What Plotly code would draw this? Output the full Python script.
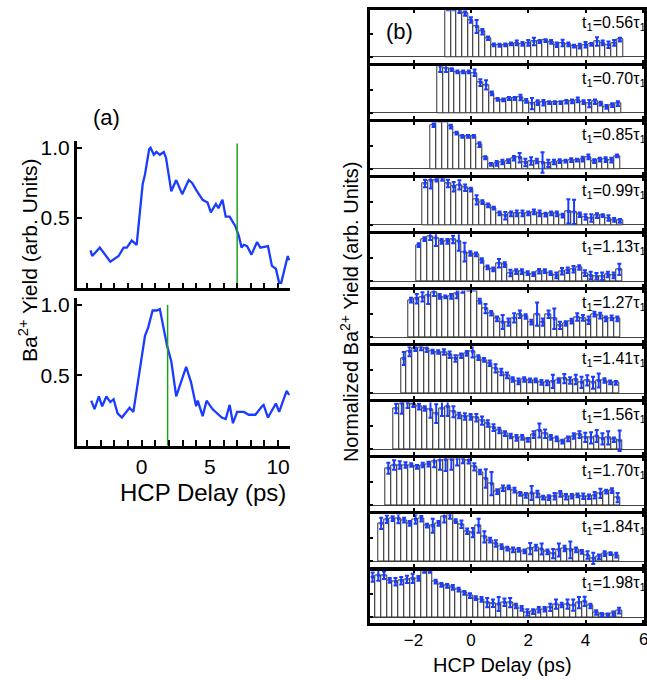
import numpy as np
import plotly.graph_objects as go

W, H = 647, 680
FONT = "Liberation Sans, Arial, sans-serif"
BLUE = "#1a3cff"
GREEN = "#1f9e1f"

# ---------------- panel (a) data ----------------
a_top_x = [-3.75, -3.63, -3.07, -2.30, -1.69, -1.33, -1.09, -0.73, -0.37, 0.07,
           0.24, 0.55, 0.65, 0.89, 1.08, 1.33, 1.62, 1.78, 2.17, 2.53,
           2.97, 3.45, 3.70, 3.99, 4.47, 4.83, 5.07, 5.44, 5.63, 5.92,
           6.16, 6.45, 6.88, 7.13, 7.32, 7.49, 7.73, 8.05, 8.46, 8.70,
           9.26, 9.55, 9.84, 10.08, 10.23, 10.47, 10.71, 10.81]
a_top_y = [0.27, 0.23, 0.29, 0.19, 0.23, 0.29, 0.29, 0.34, 0.31, 0.74,
           0.81, 0.99, 1.00, 0.95, 0.97, 0.95, 0.97, 0.93, 0.69, 0.77,
           0.67, 0.77, 0.75, 0.70, 0.63, 0.61, 0.54, 0.60, 0.57, 0.63,
           0.51, 0.51, 0.44, 0.37, 0.29, 0.31, 0.30, 0.24, 0.33, 0.29,
           0.30, 0.16, 0.14, 0.04, 0.04, 0.14, 0.23, 0.20]
a_bot_x = [-3.70, -3.46, -3.14, -2.90, -2.59, -2.30, -2.06, -1.77, -1.45, -0.89,
           -0.61, -0.24, 0.24, 0.48, 0.80, 1.09, 1.33, 1.86, 2.17, 2.53,
           2.90, 3.26, 3.62, 3.99, 4.11, 4.47, 4.76, 5.19, 5.87, 6.16,
           6.45, 6.69, 7.00, 7.49, 7.85, 8.34, 8.82, 8.94, 9.26, 9.84,
           10.08, 10.63, 10.81]
a_bot_y = [0.32, 0.26, 0.35, 0.28, 0.35, 0.31, 0.33, 0.23, 0.20, 0.27,
           0.24, 0.49, 0.78, 0.84, 0.96, 0.96, 0.97, 0.71, 0.60, 0.35,
           0.46, 0.56, 0.45, 0.28, 0.32, 0.21, 0.32, 0.26, 0.20, 0.19,
           0.29, 0.16, 0.24, 0.24, 0.22, 0.22, 0.28, 0.29, 0.20, 0.30,
           0.24, 0.39, 0.36]
a_marker_x = [7.0, 1.9]
a_tick_vals = [0, 5, 10]
a_tick_text = ["0", "5", "10"]
a_ytick_vals = [0.5, 1.0]
a_ytick_text = ["0.5", "1.0"]

# ---------------- panel (b) data ----------------
b_labels = ["0.56", "0.70", "0.85", "0.99", "1.13", "1.27", "1.41", "1.56", "1.70", "1.84", "1.98"]
b_start = [-0.80, -1.07, -1.30, -1.60, -1.82, -2.09, -2.34, -2.61, -2.88, -3.13, -3.43]
b_step = 0.2

b_p1 = [1.05, 1.05, 1.0, 0.93, 0.79, 0.65, 0.54, 0.40, 0.26, 0.25, 0.26, 0.28, 0.30, 0.28, 0.30, 0.33,
        0.33, 0.35, 0.32, 0.26, 0.30, 0.27, 0.23, 0.23, 0.26, 0.27, 0.33, 0.30, 0.26, 0.30, 0.37]
b_p2 = [1.0, 0.96, 0.93, 0.88, 0.88, 0.88, 0.86, 0.65, 0.60, 0.42, 0.29, 0.28, 0.31, 0.31, 0.33, 0.26,
        0.20, 0.22, 0.22, 0.22, 0.22, 0.22, 0.24, 0.25, 0.28, 0.23, 0.20, 0.24, 0.20, 0.13, 0.17, 0.20]
b_p3 = [0.94, 1.05, 1.05, 0.91, 0.77, 0.70, 0.70, 0.70, 0.52, 0.24, 0.10, 0.12, 0.15, 0.17, 0.23, 0.24,
        0.14, 0.17, 0.17, 0.14, 0.12, 0.15, 0.17, 0.17, 0.19, 0.19, 0.21, 0.26, 0.17, 0.20, 0.20, 0.19, 0.28]
b_p4 = [0.89, 0.96, 0.96, 1.0, 0.89, 0.82, 0.86, 0.80, 0.76, 0.54, 0.49, 0.42, 0.36, 0.25, 0.20, 0.24,
        0.25, 0.25, 0.25, 0.28, 0.25, 0.22, 0.25, 0.24, 0.20, 0.29, 0.28, 0.22, 0.17, 0.15, 0.20, 0.20,
        0.15, 0.11, 0.09]
b_p5 = [0.77, 0.90, 0.96, 0.92, 0.85, 0.85, 0.89, 0.85, 0.62, 0.59, 0.57, 0.44, 0.29, 0.25, 0.38, 0.35,
        0.17, 0.20, 0.20, 0.17, 0.15, 0.21, 0.21, 0.17, 0.12, 0.21, 0.23, 0.25, 0.29, 0.17, 0.12, 0.10,
        0.10, 0.14, 0.12, 0.25]
b_p6 = [0.79, 0.82, 0.86, 0.89, 0.96, 0.87, 0.86, 0.87, 0.93, 1.05, 1.05, 1.05, 0.77, 0.61, 0.51, 0.39,
        0.32, 0.32, 0.41, 0.49, 0.44, 0.32, 0.49, 0.32, 0.49, 0.39, 0.25, 0.29, 0.34, 0.43, 0.41, 0.36,
        0.49, 0.46, 0.39, 0.41, 0.39]
b_p7 = [0.74, 0.89, 0.95, 0.98, 0.95, 0.89, 0.88, 0.88, 0.82, 0.74, 0.80, 0.85, 0.89, 0.76, 0.71, 0.64,
        0.53, 0.45, 0.38, 0.29, 0.25, 0.29, 0.27, 0.27, 0.23, 0.22, 0.25, 0.27, 0.31, 0.27, 0.29, 0.23,
        0.27, 0.22, 0.27, 0.27, 0.23, 0.22]
b_p8 = [0.87, 0.98, 1.0, 0.95, 0.91, 0.87, 0.85, 0.76, 0.87, 0.91, 0.80, 0.72, 0.70, 0.69, 0.67, 0.61,
        0.55, 0.46, 0.40, 0.33, 0.28, 0.24, 0.25, 0.20, 0.31, 0.40, 0.33, 0.25, 0.22, 0.16, 0.22, 0.28,
        0.31, 0.25, 0.24, 0.28, 0.22, 0.24, 0.20, 0.18]
b_p9 = [0.79, 0.86, 0.86, 0.86, 0.86, 0.82, 0.86, 0.88, 0.93, 0.96, 0.98, 0.98, 1.0, 1.0, 0.96, 0.82,
        0.71, 0.57, 0.46, 0.29, 0.36, 0.38, 0.32, 0.24, 0.21, 0.26, 0.24, 0.16, 0.16, 0.19, 0.24, 0.18,
        0.19, 0.21, 0.19, 0.18, 0.21, 0.25, 0.29, 0.31, 0.16]
b_p10 = [0.81, 0.90, 0.91, 0.91, 0.88, 0.81, 0.90, 0.91, 0.76, 0.76, 0.81, 0.95, 0.99, 0.86, 0.79, 0.64,
         0.61, 0.76, 0.52, 0.45, 0.38, 0.31, 0.27, 0.24, 0.24, 0.21, 0.27, 0.29, 0.26, 0.20, 0.16, 0.24,
         0.27, 0.24, 0.24, 0.20, 0.13, 0.06, 0.09, 0.16, 0.16, 0.13]
b_p11 = [0.86, 0.90, 0.90, 0.79, 0.76, 0.78, 0.81, 0.83, 0.83, 1.0, 1.0, 0.76, 0.69, 0.67, 0.64, 0.59,
         0.52, 0.46, 0.41, 0.38, 0.31, 0.30, 0.28, 0.32, 0.31, 0.24, 0.19, 0.10, 0.12, 0.16, 0.17, 0.21,
         0.28, 0.26, 0.28, 0.26, 0.31, 0.34, 0.24, 0.10, 0.05, 0.05, 0.07, 0.14]

e_p1 = [0.05, 0.05, 0.06, 0.05, 0.06, 0.14, 0.06, 0.04, 0.03, 0.03, 0.03, 0.03, 0.05, 0.04, 0.06, 0.08,
        0.03, 0.03, 0.04, 0.05, 0.07, 0.04, 0.03, 0.05, 0.06, 0.03, 0.09, 0.05, 0.07, 0.06, 0.04]
e_p2 = [0.12, 0.08, 0.03, 0.03, 0.03, 0.03, 0.07, 0.07, 0.10, 0.04, 0.03, 0.03, 0.03, 0.03, 0.06, 0.04,
        0.12, 0.05, 0.06, 0.03, 0.03, 0.03, 0.04, 0.04, 0.05, 0.04, 0.08, 0.05, 0.04, 0.04, 0.04, 0.05]
e_p3 = [0.04, 0.03, 0.03, 0.04, 0.03, 0.03, 0.03, 0.03, 0.05, 0.03, 0.03, 0.05, 0.05, 0.04, 0.05, 0.10,
        0.08, 0.08, 0.05, 0.22, 0.08, 0.05, 0.04, 0.03, 0.04, 0.03, 0.05, 0.05, 0.04, 0.04, 0.05, 0.05, 0.03]
e_p4 = [0.08, 0.18, 0.03, 0.05, 0.08, 0.10, 0.10, 0.07, 0.04, 0.10, 0.04, 0.04, 0.03, 0.04, 0.08, 0.05,
        0.06, 0.06, 0.04, 0.05, 0.06, 0.04, 0.04, 0.05, 0.04, 0.26, 0.26, 0.05, 0.06, 0.08, 0.05, 0.03,
        0.06, 0.04, 0.04]
e_p5 = [0.04, 0.04, 0.08, 0.17, 0.05, 0.05, 0.08, 0.20, 0.20, 0.05, 0.04, 0.05, 0.04, 0.04, 0.09, 0.05,
        0.07, 0.05, 0.05, 0.04, 0.04, 0.05, 0.04, 0.04, 0.06, 0.07, 0.06, 0.07, 0.05, 0.06, 0.08, 0.07,
        0.08, 0.06, 0.06, 0.12]
e_p6 = [0.05, 0.10, 0.10, 0.18, 0.08, 0.05, 0.03, 0.05, 0.10, 0.10, 0.05, 0.05, 0.05, 0.10, 0.05, 0.05,
        0.15, 0.08, 0.10, 0.08, 0.05, 0.05, 0.25, 0.08, 0.08, 0.22, 0.08, 0.05, 0.05, 0.08, 0.06, 0.08,
        0.05, 0.06, 0.05, 0.05, 0.05]
e_p7 = [0.14, 0.10, 0.05, 0.06, 0.07, 0.04, 0.04, 0.06, 0.07, 0.07, 0.05, 0.05, 0.13, 0.05, 0.04, 0.06,
        0.09, 0.07, 0.06, 0.05, 0.06, 0.05, 0.04, 0.04, 0.05, 0.05, 0.14, 0.05, 0.10, 0.07, 0.10, 0.12,
        0.11, 0.13, 0.15, 0.05, 0.04, 0.04]
e_p8 = [0.10, 0.22, 0.12, 0.05, 0.06, 0.05, 0.18, 0.20, 0.16, 0.20, 0.12, 0.06, 0.07, 0.06, 0.08, 0.09,
        0.07, 0.07, 0.06, 0.05, 0.05, 0.06, 0.05, 0.04, 0.07, 0.15, 0.09, 0.05, 0.05, 0.04, 0.05, 0.06,
        0.07, 0.10, 0.12, 0.13, 0.12, 0.14, 0.05, 0.22]
e_p9 = [0.12, 0.10, 0.08, 0.06, 0.04, 0.04, 0.05, 0.05, 0.12, 0.20, 0.25, 0.22, 0.15, 0.10, 0.07, 0.08,
        0.05, 0.20, 0.25, 0.05, 0.06, 0.04, 0.05, 0.04, 0.05, 0.15, 0.07, 0.04, 0.05, 0.07, 0.06, 0.06,
        0.05, 0.04, 0.06, 0.05, 0.07, 0.10, 0.04, 0.05, 0.10]
e_p10 = [0.12, 0.08, 0.05, 0.10, 0.05, 0.05, 0.10, 0.06, 0.04, 0.15, 0.05, 0.12, 0.08, 0.04, 0.08, 0.06,
         0.10, 0.15, 0.12, 0.05, 0.07, 0.05, 0.04, 0.05, 0.04, 0.04, 0.12, 0.06, 0.12, 0.05, 0.10, 0.14,
         0.06, 0.18, 0.05, 0.04, 0.08, 0.12, 0.05, 0.05, 0.03, 0.05]
e_p11 = [0.10, 0.12, 0.08, 0.05, 0.08, 0.08, 0.08, 0.10, 0.05, 0.05, 0.05, 0.04, 0.04, 0.04, 0.05, 0.04,
         0.04, 0.05, 0.04, 0.05, 0.10, 0.08, 0.15, 0.08, 0.10, 0.05, 0.05, 0.07, 0.05, 0.06, 0.05, 0.08,
         0.10, 0.05, 0.10, 0.12, 0.12, 0.10, 0.05, 0.05, 0.04, 0.03, 0.05, 0.06]

b_vals = [b_p1, b_p2, b_p3, b_p4, b_p5, b_p6, b_p7, b_p8, b_p9, b_p10, b_p11]
b_errs = [e_p1, e_p2, e_p3, e_p4, e_p5, e_p6, e_p7, e_p8, e_p9, e_p10, e_p11]
b_tick_vals = [-2, 0, 2, 4, 6]
b_edge_label = "6"


def py(px):
    return 1 - px / H


def pxx(px):
    return px / W


def note(text, x, y, size, angle=0, xanchor="center"):
    return dict(text=text, x=pxx(x), y=py(y), xref="paper", yref="paper",
                xanchor=xanchor, yanchor="middle", showarrow=False, textangle=angle,
                font=dict(family=FONT, size=size, color="black"))


fig = go.Figure()
layout = {}
annotations = []

# ---------------- panel (a) ----------------
a_dom_x = [pxx(77), pxx(291.7)]
a_doms_y = [[py(285.5), py(136.7)], [py(444), py(295)]]
a_series = [(a_top_x, a_top_y), (a_bot_x, a_bot_y)]
for i in range(2):
    n = i + 1
    xs, ys = a_series[i]
    fig.add_trace(go.Scatter(x=xs, y=ys, mode="lines", line=dict(color=BLUE, width=2.3),
                             xaxis=f"x{n}", yaxis=f"y{n}", showlegend=False))
    top = 1.03 if i == 0 else 1.0
    fig.add_trace(go.Scatter(x=[a_marker_x[i], a_marker_x[i]], y=[0, top], mode="lines",
                             line=dict(color=GREEN, width=1.5),
                             xaxis=f"x{n}", yaxis=f"y{n}", showlegend=False))
    key = "" if n == 1 else str(n)
    layout[f"xaxis{key}"] = dict(
        domain=a_dom_x, range=[-4.77, 10.9], anchor=f"y{n}",
        showline=True, linewidth=2.5, linecolor="black", mirror=False,
        ticks="inside", ticklen=6, tickwidth=1.5, tickcolor="black",
        tickvals=a_tick_vals, ticktext=a_tick_text, showticklabels=(i == 1),
        minor=dict(ticks="inside", ticklen=6, tickwidth=1.5, tickcolor="black",
                   tick0=0, dtick=1),
        showgrid=False, zeroline=False,
        tickfont=dict(family=FONT, size=21, color="black"))
    layout[f"yaxis{n}"] = dict(
        domain=a_doms_y[i], range=[0, 1.05], anchor=f"x{n}",
        showline=True, linewidth=2.5, linecolor="black",
        ticks="inside", ticklen=6, tickwidth=1.5, tickcolor="black",
        tickvals=a_ytick_vals, ticktext=a_ytick_text,
        showgrid=False, zeroline=False,
        tickfont=dict(family=FONT, size=21, color="black"))

annotations.append(note("(a)", 107, 113, 22))
annotations.append(note("Ba<sup>2+</sup> Yield (arb. Units)", 28, 257, 21, angle=-90))
annotations.append(note("HCP Delay (ps)", 204, 491, 24))

# ---------------- panel (b) ----------------
b_dom_x = [pxx(372), 1.0]
for k in range(11):
    n = k + 3
    vals = b_vals[k]
    xs = b_start[k] + b_step * np.arange(len(vals))
    fig.add_trace(go.Bar(x=xs, y=vals, width=b_step,
                         marker=dict(color="white", line=dict(color="#333333", width=1)),
                         xaxis=f"x{n}", yaxis=f"y{n}", showlegend=False))
    fig.add_trace(go.Scatter(x=xs, y=vals, mode="markers",
                             marker=dict(size=3, color=BLUE, symbol="square"),
                             error_y=dict(type="data", array=b_errs[k], color=BLUE,
                                          thickness=2, width=2),
                             xaxis=f"x{n}", yaxis=f"y{n}", showlegend=False))
    base = 52.3 + 56.44 * k
    top_px = base - 47
    bot_px = base + 6
    last = (k == 10)
    layout[f"xaxis{n}"] = dict(
        domain=b_dom_x, range=[-3.51, 6.04], anchor=f"y{n}",
        showline=True, linewidth=2.5, linecolor="black", mirror="allticks",
        ticks="inside", ticklen=3, tickwidth=1.5, tickcolor="black",
        tickvals=b_tick_vals, showticklabels=last,
        tickformat="d",
        showgrid=False, zeroline=False,
        tickfont=dict(family=FONT, size=17, color="black"))
    layout[f"yaxis{n}"] = dict(
        domain=[py(bot_px), py(top_px)], range=[-6 / 47, 1.0], anchor=f"x{n}",
        showline=True, linewidth=2.5, linecolor="black", mirror=True,
        ticks="inside", ticklen=3, tickwidth=1.5, tickcolor="black",
        tickvals=[0, 0.5], showticklabels=False,
        showgrid=False, zeroline=True, zerolinecolor="#444444", zerolinewidth=1)
    annotations.append(note("t<sub>1</sub>=" + b_labels[k] + "τ<sub>1</sub>",
                            583, top_px + 13, 16, xanchor="left"))

annotations.append(note(b_edge_label, 640, 639, 17, xanchor="left"))
annotations.append(note("(b)", 401, 27, 22))
annotations.append(note("HCP Delay (ps)", 505, 665, 20))
annotations.append(note("Normalized Ba<sup>2+</sup> Yield (arb. Units)", 351, 309, 20, angle=-90))

fig.update_layout(width=W, height=H, margin=dict(l=0, r=0, t=0, b=0),
                  paper_bgcolor="white", plot_bgcolor="white", showlegend=False,
                  bargap=0, annotations=annotations, **layout)
fig.write_html("out.html", config={"displayModeBar": False},
               post_script="document.body.style.margin='0px';")
